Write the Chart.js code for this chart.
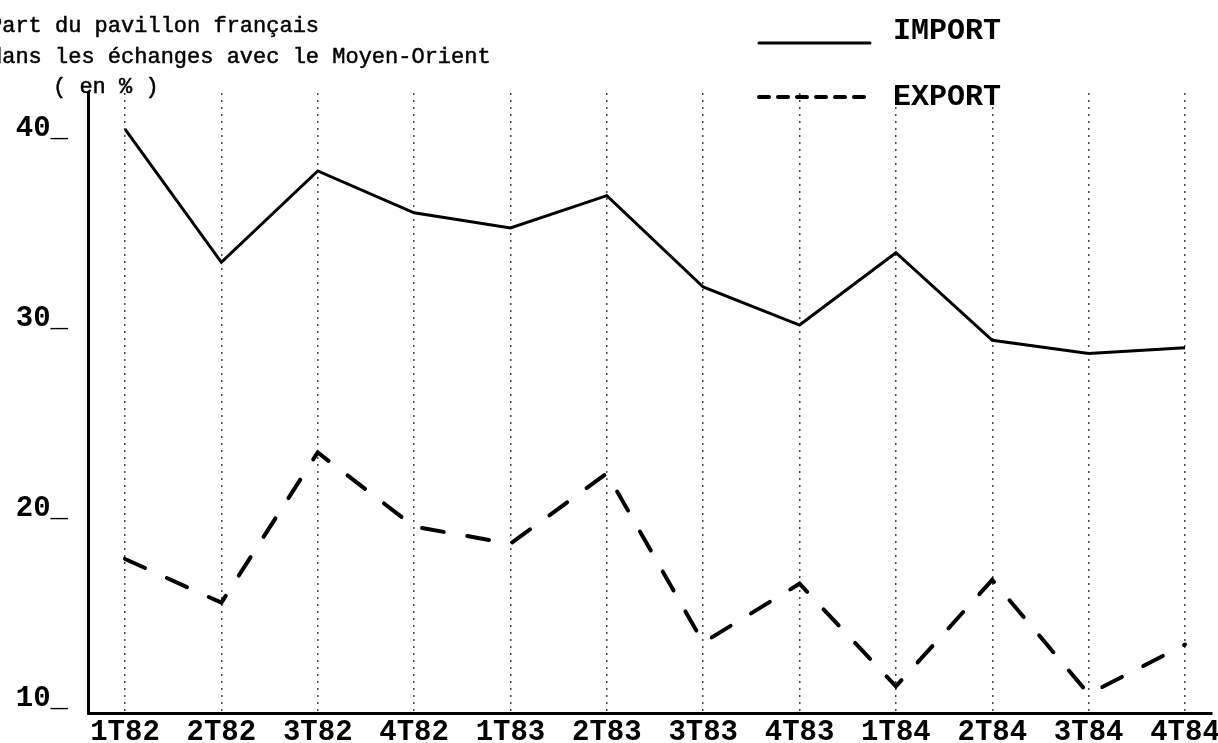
<!DOCTYPE html>
<html><head><meta charset="utf-8">
<script src="https://cdn.jsdelivr.net/npm/chart.js@4/dist/chart.umd.min.js"></script>
<style>html,body{margin:0;padding:0;background:#fff;overflow:hidden}#wrap{position:relative;width:1218px;height:743px}</style>
</head><body><div id="wrap"><canvas id="c" width="1218" height="743"></canvas></div>
<script>
const categories = ['1T82','2T82','3T82','4T82','1T83','2T83','3T83','4T83','1T84','2T84','3T84','4T84'];
const importValues = [40.7, 33.7, 38.5, 36.3, 35.5, 37.2, 32.4, 30.4, 34.2, 29.6, 28.9, 29.2];
const exportValues = [18.1, 15.8, 23.7, 19.8, 18.9, 22.6, 13.7, 16.8, 11.4, 17.0, 11.0, 13.6];
const yTickValues = [10, 20, 30, 40];
const titleLines = ['Part du pavillon français', 'dans les échanges avec le Moyen-Orient', '( en % )'];
const seriesNames = ['IMPORT', 'EXPORT'];

const MONO = '"Liberation Mono", "DejaVu Sans Mono", monospace';

const titlePlugin = {
  id: 'typedTitle',
  afterDraw(chart) {
    const ctx = chart.ctx;
    ctx.save();
    ctx.fillStyle = '#000';
    ctx.strokeStyle = '#000';
    ctx.lineWidth = 0.5;
    ctx.font = '22px ' + MONO;
    ctx.textBaseline = 'middle';
    ctx.textAlign = 'left';
    const pos = [[-11, 26], [-11, 57], [53, 87]];
    titleLines.forEach((t, i) => {
      ctx.fillText(t, pos[i][0], pos[i][1]);
      ctx.strokeText(t, pos[i][0], pos[i][1]);
    });
    ctx.restore();
  }
};

const legendPlugin = {
  id: 'typedLegend',
  afterDraw(chart) {
    const ctx = chart.ctx;
    ctx.save();
    const rows = [{lineY: 43, textY: 31}, {lineY: 97, textY: 97}];
    chart.data.datasets.forEach((ds, i) => {
      const r = rows[i];
      ctx.strokeStyle = ds.borderColor;
      ctx.lineWidth = ds.borderWidth;
      ctx.lineCap = 'round';
      ctx.setLineDash(i === 1 ? [10, 9] : []);
      ctx.beginPath();
      ctx.moveTo(759, r.lineY);
      ctx.lineTo(870, r.lineY);
      ctx.stroke();
      ctx.setLineDash([]);
      ctx.fillStyle = '#000';
      ctx.font = 'bold 30px ' + MONO;
      ctx.textBaseline = 'middle';
      ctx.textAlign = 'left';
      ctx.fillText(ds.label, 893, r.textY);
    });
    ctx.restore();
  }
};

new Chart(document.getElementById('c'), {
  type: 'line',
  data: {
    datasets: [
      {
        label: seriesNames[0],
        data: importValues.map((v, i) => ({x: i, y: v})),
        borderColor: '#000',
        borderWidth: 3,
        pointRadius: 0,
        tension: 0,
        fill: false
      },
      {
        label: seriesNames[1],
        data: exportValues.map((v, i) => ({x: i, y: v})),
        borderColor: '#000',
        borderWidth: 4,
        borderDash: [22, 24],
        borderCapStyle: 'round',
        pointRadius: 0,
        tension: 0,
        fill: false
      }
    ]
  },
  options: {
    responsive: false,
    devicePixelRatio: 1,
    animation: false,
    layout: {padding: {top: 93, right: 6, left: 0, bottom: 0}},
    plugins: {legend: {display: false}, title: {display: false}, tooltip: {enabled: false}},
    scales: {
      x: {
        type: 'linear',
        min: -0.384,
        max: 11.28,
        afterBuildTicks(scale) { scale.ticks = categories.map((c, i) => ({value: i})); },
        afterFit(scale) { scale.height = 30; scale.paddingLeft = 0; scale.paddingRight = 0; },
        ticks: {
          autoSkip: false,
          maxRotation: 0,
          padding: 2,
          color: '#000',
          font: {family: MONO, size: 29, weight: 'bold'},
          callback: (v) => categories[v] ?? ''
        },
        grid: {display: true, drawTicks: false, color: '#444', lineWidth: 1.5},
        border: {display: true, color: '#000', width: 3, dash: [2, 5]}
      },
      y: {
        type: 'linear',
        min: 10,
        max: 42.6,
        afterBuildTicks(scale) { scale.ticks = yTickValues.map(v => ({value: v})); },
        afterFit(scale) { scale.width = 88; scale.paddingTop = 0; scale.paddingBottom = 0; },
        ticks: {
          padding: 20,
          labelOffset: -14,
          color: '#000',
          font: {family: MONO, size: 29, weight: 'bold'},
          callback: (v) => v + '_'
        },
        grid: {display: false, drawTicks: false},
        border: {display: true, color: '#000', width: 3}
      }
    }
  },
  plugins: [titlePlugin, legendPlugin]
});
</script>
</body></html>
